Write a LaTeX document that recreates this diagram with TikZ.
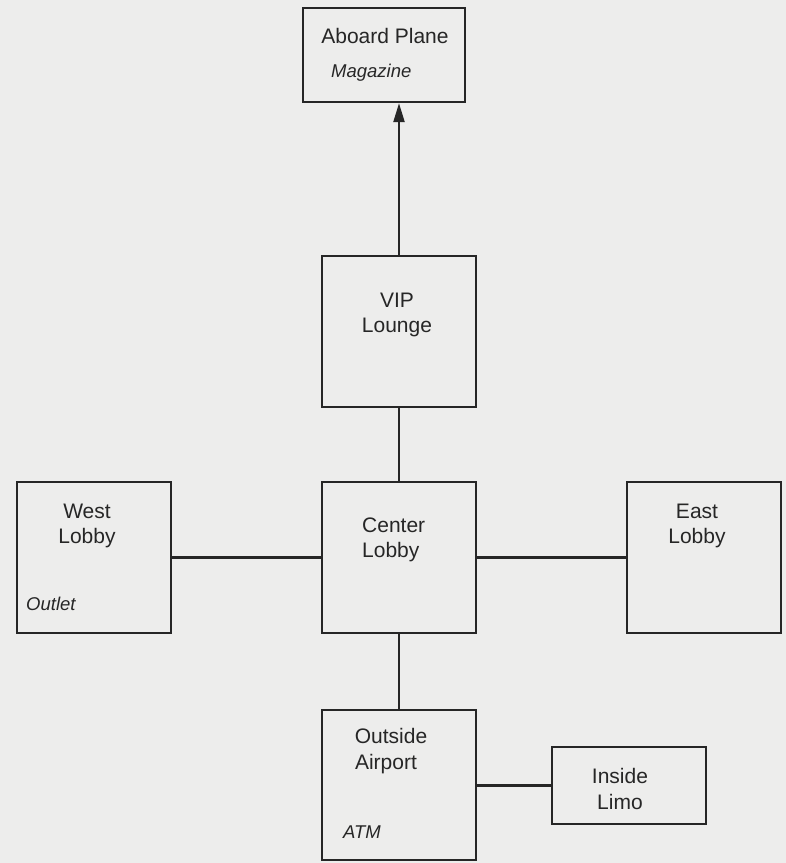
\documentclass[tikz,border=0pt]{standalone}
\usepackage{fontspec}
\setmainfont{Liberation Sans}
\usepackage{xcolor}
\usetikzlibrary{positioning,arrows.meta,calc}
\definecolor{paper}{HTML}{EDEDEC}
\definecolor{ink}{HTML}{262626}

\begin{document}
\begin{tikzpicture}[
  x=1pt, y=-1pt,
  room/.style={draw=ink, line width=2.3pt, fill=paper, inner sep=0pt},
  big/.style={room, minimum width=154pt, minimum height=151pt},
  ttl/.style={font=\fontsize{21}{25.5}\selectfont, text=ink, align=center, inner sep=0pt},
  itm/.style={font=\fontsize{18.5}{22}\selectfont\itshape, text=ink, anchor=west, inner sep=0pt},
  lnk/.style={draw=ink, line width=2.3pt},
  arr/.style={lnk, -{Triangle[length=19pt, width=11pt]}}
]
\fill[paper] (0,0) rectangle (786,863);
\useasboundingbox (0,0) rectangle (786,863);
% rooms
\node[room, minimum width=162pt, minimum height=94pt] (plane) at (384,55) {};
\node[big] (vip) at (399,331.5) {};
\node[big] (center) at (399,557.5) {};
\node[big] (west) at (94,557.5) {};
\node[big] (east) at (704,557.5) {};
\node[big, minimum height=150pt] (outside) at (399,785) {};
\node[room, minimum width=154pt, minimum height=77pt] (limo) at (629,785.5) {};
% links
\draw[arr] (vip.north) -- (vip.north |- plane.south);
\foreach \a/\b in {vip/center, center/outside}
  \draw[lnk] (\a) -- (\b);
\draw[lnk] (west.east) -- (center.west);
\draw[lnk] (center.east) -- (east.west);
\draw[lnk] (outside.east |- limo.west) -- (limo.west);
% names
\node[ttl] (planeT) at (385,36) {Aboard Plane};
\node[ttl] (vipT) at (397,315) {VIP\\Lounge};
\node[ttl, align=left, anchor=west] (centerT) at (362,540) {Center\\Lobby};
\node[ttl] (westT) at (87,526) {West\\Lobby};
\node[ttl] (eastT) at (697,526) {East\\Lobby};
\node[ttl] (outsideT) at (386,751) {\hspace*{10pt}Outside\\Airport};
\node[ttl] (limoT) at (620,789) {Inside\\Limo};
% items
\node[itm] (mag) at (331,73) {Magazine};
\node[itm] (outlet) at (26,604) {Outlet};
\node[itm] (atm) at (343,832) {ATM};
\end{tikzpicture}
\end{document}
